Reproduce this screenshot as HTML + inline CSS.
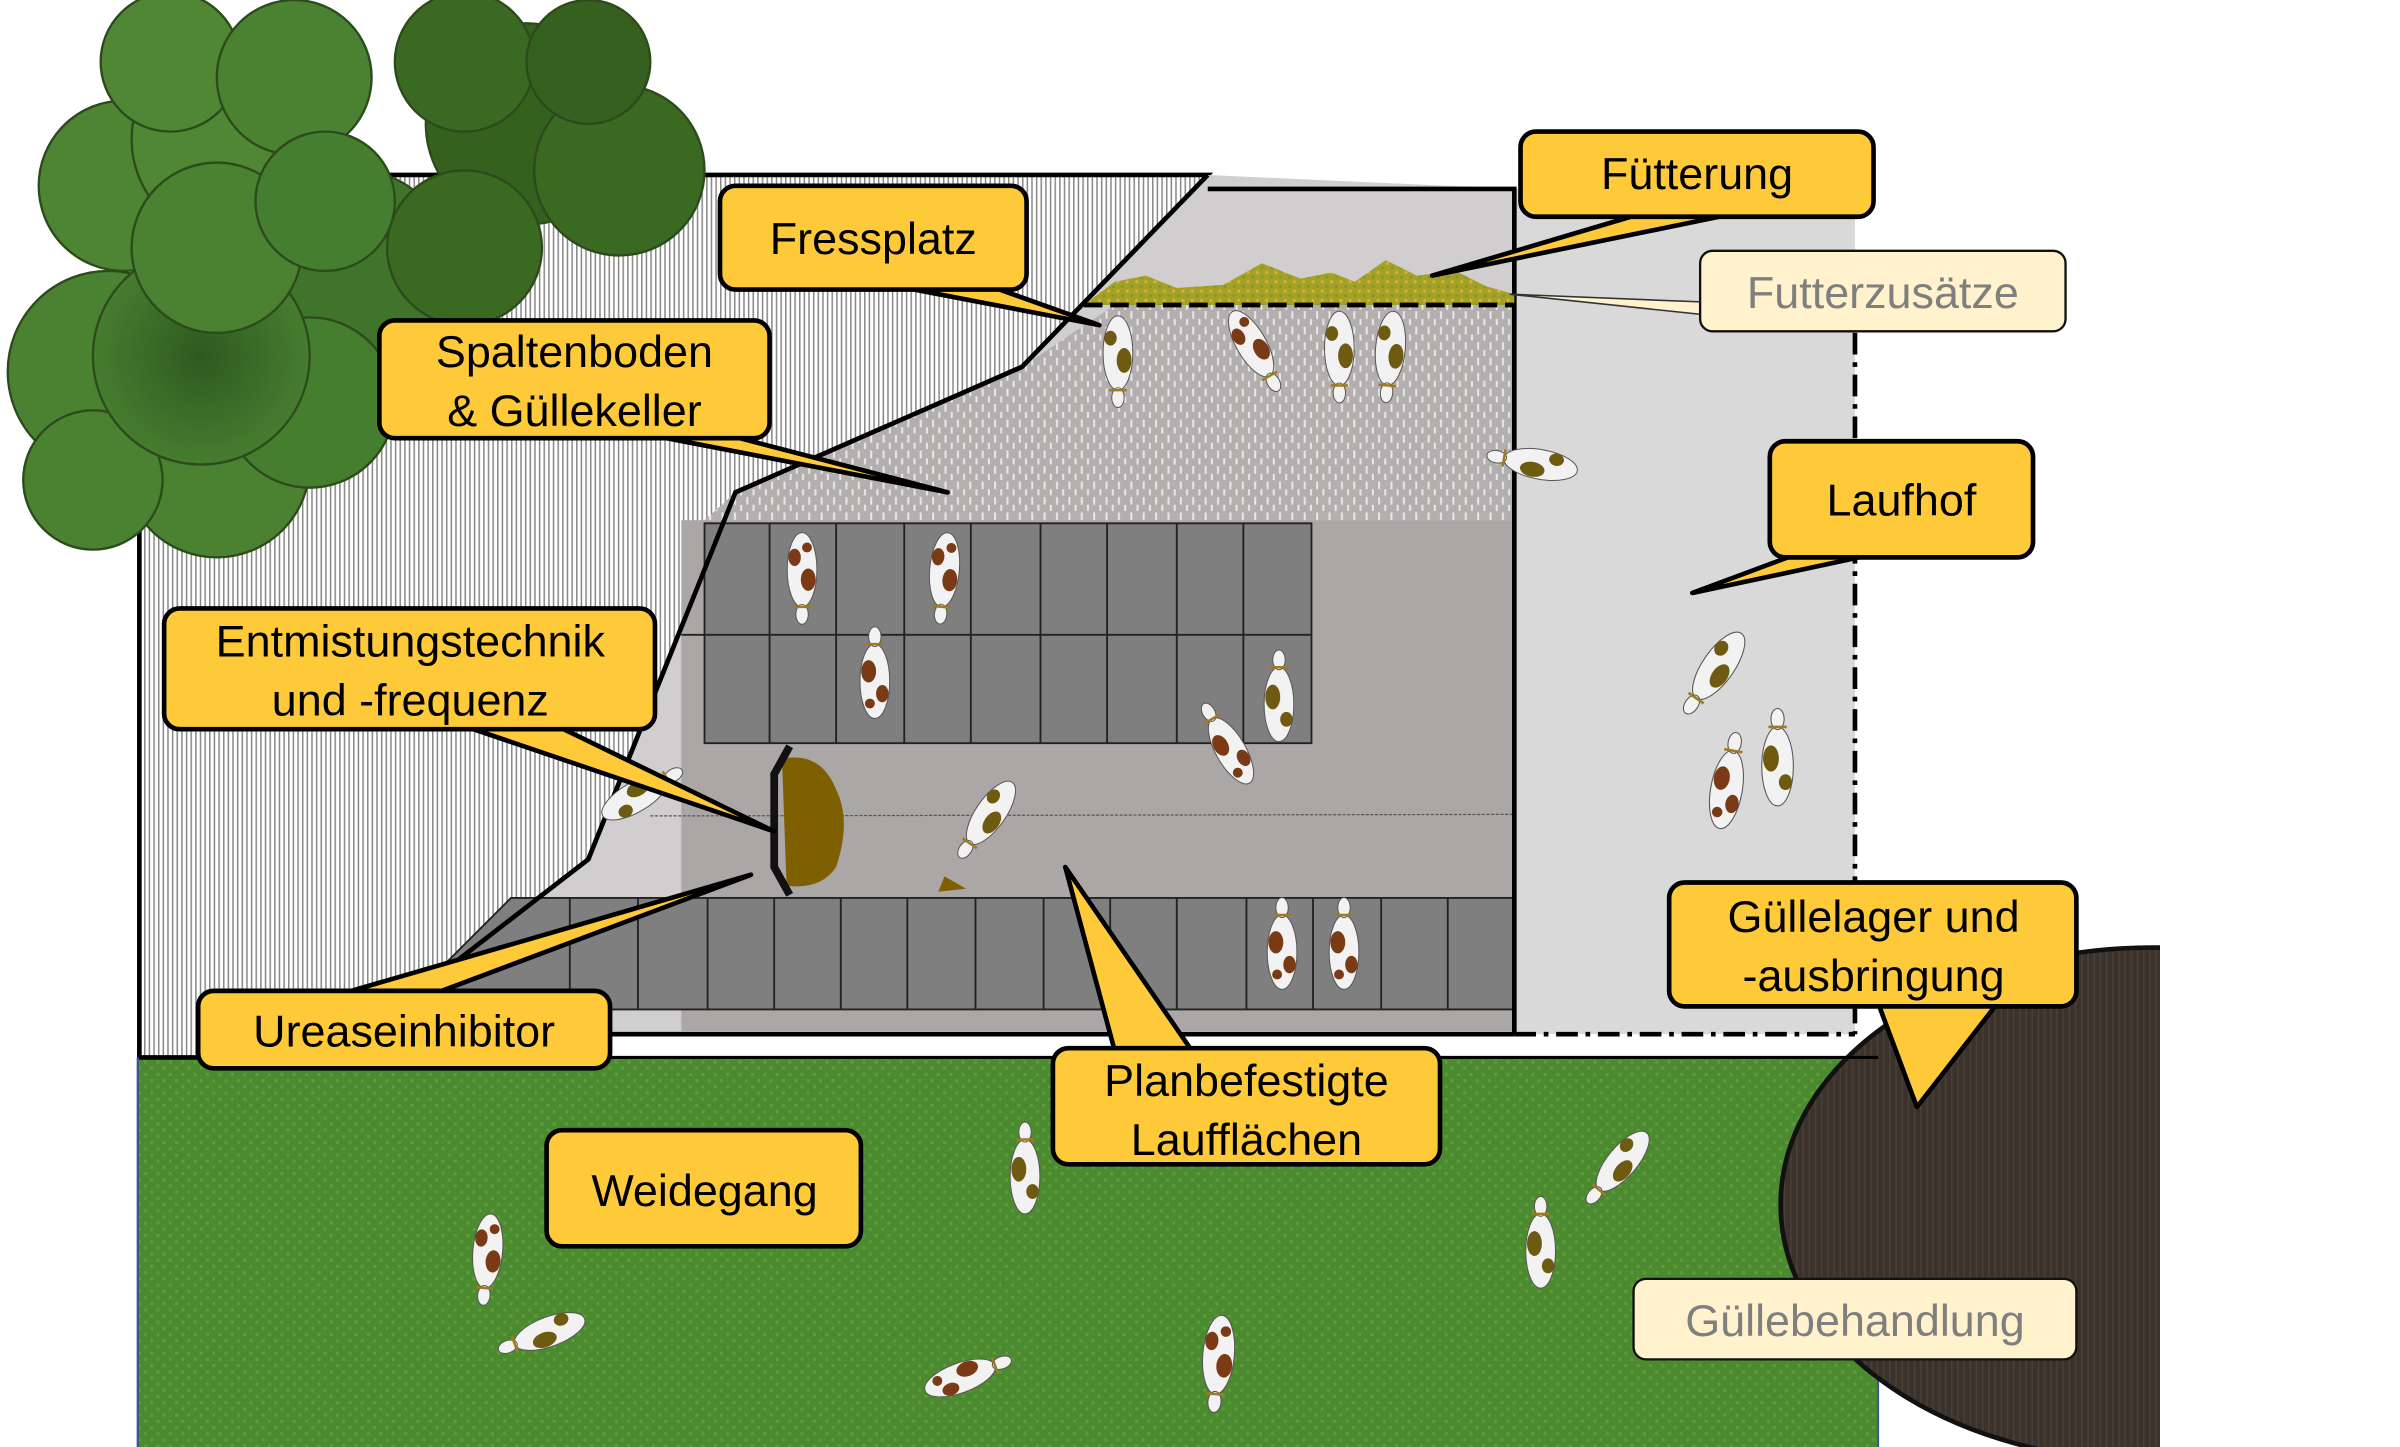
<!DOCTYPE html>
<html><head><meta charset="utf-8"><style>
html,body{margin:0;padding:0;background:#fff;width:2400px;height:1447px;overflow:hidden;}
svg{display:block;position:absolute;left:0;top:0;}
text{font-family:"Liberation Sans",sans-serif;}
</style></head><body>
<svg width="2400" height="1447" viewBox="0 0 1550 934.6" preserveAspectRatio="none" xmlns="http://www.w3.org/2000/svg">
<defs>
<pattern id="stripe" width="3" height="10" patternUnits="userSpaceOnUse"><rect width="3" height="10" fill="#fff"/><rect width="1" height="10" fill="#8a8a8a"/></pattern>
<pattern id="dots" width="8" height="10" patternUnits="userSpaceOnUse"><rect width="8" height="10" fill="#b3afaf"/><rect x="2" y="1" width="1.3" height="5" fill="#e8e8e8"/><rect x="6" y="6" width="1.3" height="4" fill="#e8e8e8"/></pattern>
<pattern id="grass" width="8" height="8" patternUnits="userSpaceOnUse"><rect width="8" height="8" fill="#4c8a2f"/><rect x="1" y="1" width="2" height="2" fill="#5e9b3e"/><rect x="5" y="5" width="2" height="2" fill="#5e9b3e"/></pattern>
<pattern id="feed" width="6" height="6" patternUnits="userSpaceOnUse"><rect width="6" height="6" fill="#a6a124"/><circle cx="2" cy="2" r="1" fill="#d0b640"/><circle cx="5" cy="5" r="1" fill="#7c9a30"/></pattern>
<pattern id="slurry" width="4" height="4" patternUnits="userSpaceOnUse"><rect width="4" height="4" fill="#3b322b"/><rect width="1" height="4" fill="#4a3f36"/></pattern>
<radialGradient id="tg" cx="0.5" cy="0.5" r="0.6"><stop offset="0" stop-color="#2e5a1f"/><stop offset="1" stop-color="#4b8332"/></radialGradient>
<g id="cow">
<ellipse cx="0" cy="0" rx="12" ry="30" fill="#f2f2f2" stroke="#555" stroke-width="0.8"/>
<ellipse cx="-5" cy="-8" rx="6" ry="9" fill="#7a3a16"/>
<ellipse cx="6" cy="10" rx="5" ry="7" fill="#7a3a16"/>
<ellipse cx="-4" cy="18" rx="4" ry="4" fill="#7a3a16"/>
<ellipse cx="0" cy="-36" rx="5" ry="8" fill="#f2f2f2" stroke="#555" stroke-width="0.8"/>
<line x1="-7" y1="-30" x2="7" y2="-30" stroke="#a07a20" stroke-width="2"/>
</g>
<g id="cow2">
<ellipse cx="0" cy="0" rx="12" ry="30" fill="#f2f2f2" stroke="#555" stroke-width="0.8"/>
<ellipse cx="-5" cy="-6" rx="6" ry="10" fill="#6e5a10"/>
<ellipse cx="6" cy="12" rx="5" ry="6" fill="#6e5a10"/>
<ellipse cx="0" cy="-36" rx="5" ry="8" fill="#f2f2f2" stroke="#555" stroke-width="0.8"/>
<line x1="-7" y1="-30" x2="7" y2="-30" stroke="#a07a20" stroke-width="2"/>
</g>
<clipPath id="cc"><rect x="0" y="0" width="1395" height="935"/></clipPath>
</defs>

<!-- grass -->
<rect x="89" y="683" width="1124" height="252" fill="url(#grass)"/>
<line x1="1213" y1="683" x2="1213" y2="935" stroke="#3a5a8a" stroke-width="1.2"/>
<!-- slurry pit -->
<ellipse cx="1390" cy="778" rx="240" ry="166" fill="url(#slurry)" stroke="#111" stroke-width="3" clip-path="url(#cc)"/>

<!-- barn striped -->
<polygon points="90,113 780,113 660,237 475,318 380,555 270,640 270,683 90,683" fill="url(#stripe)" stroke="#000" stroke-width="3"/>

<!-- Laufhof -->
<rect x="978" y="122" width="220" height="546" fill="#d9d9d9"/>
<!-- main floor -->
<polygon points="780,113 978,122 978,668 270,668 270,640 380,555 475,318 660,237" fill="#d0cece"/>
<polygon points="660,237 720,197 978,197 978,336 455,336 475,318" fill="url(#dots)"/>
<rect x="440" y="336" width="538" height="330" fill="#aba7a7"/>
<rect x="455" y="338" width="392" height="142" fill="#7f7f7f" stroke="#222" stroke-width="1.2"/>
<g stroke="#222" stroke-width="1.2">
<line x1="440" y1="410" x2="847" y2="410"/>
<line x1="497" y1="338" x2="497" y2="480"/><line x1="540" y1="338" x2="540" y2="480"/><line x1="584" y1="338" x2="584" y2="480"/><line x1="627" y1="338" x2="627" y2="480"/><line x1="672" y1="338" x2="672" y2="480"/><line x1="715" y1="338" x2="715" y2="480"/><line x1="760" y1="338" x2="760" y2="480"/><line x1="803" y1="338" x2="803" y2="480"/>
</g>
<polygon points="330,580 978,580 978,652 270,652 270,640" fill="#7f7f7f" stroke="#222" stroke-width="1.2"/>
<g stroke="#222" stroke-width="1.2">
<line x1="368" y1="580" x2="368" y2="652"/><line x1="412" y1="580" x2="412" y2="652"/><line x1="457" y1="580" x2="457" y2="652"/><line x1="500" y1="580" x2="500" y2="652"/><line x1="543" y1="580" x2="543" y2="652"/><line x1="586" y1="580" x2="586" y2="652"/><line x1="630" y1="580" x2="630" y2="652"/><line x1="674" y1="580" x2="674" y2="652"/><line x1="717" y1="580" x2="717" y2="652"/><line x1="760" y1="580" x2="760" y2="652"/><line x1="805" y1="580" x2="805" y2="652"/><line x1="848" y1="580" x2="848" y2="652"/><line x1="892" y1="580" x2="892" y2="652"/><line x1="935" y1="580" x2="935" y2="652"/>
</g>
<line x1="420" y1="527" x2="978" y2="526" stroke="#555" stroke-width="0.8" stroke-dasharray="2,1"/>
<polyline points="780,113 660,237 475,318 380,555 270,640" fill="none" stroke="#000" stroke-width="3"/>
<polyline points="780,122 978,122 978,668" fill="none" stroke="#000" stroke-width="3"/>
<line x1="270" y1="668" x2="978" y2="668" stroke="#000" stroke-width="3"/>
<line x1="978" y1="668" x2="1198" y2="668" stroke="#000" stroke-width="3" stroke-dasharray="14,5,3,5"/>
<line x1="1198" y1="215" x2="1198" y2="668" stroke="#000" stroke-width="3" stroke-dasharray="14,5,3,5"/>
<line x1="90" y1="683" x2="1213" y2="683" stroke="#000" stroke-width="2"/>
<line x1="89" y1="683" x2="89" y2="935" stroke="#3a5a8a" stroke-width="1.5"/>
<!-- feed -->
<path d="M700,197 L720,182 L740,178 L760,186 L790,184 L815,170 L840,180 L860,176 L875,182 L895,168 L915,178 L940,175 L960,185 L978,190 L978,197 Z" fill="url(#feed)"/>
<line x1="700" y1="197" x2="978" y2="197" stroke="#000" stroke-width="3" stroke-dasharray="12,5"/>
<!-- manure scraper -->
<path d="M505,490 Q530,485 540,510 Q550,530 540,560 Q530,575 508,572 Z" fill="#7f6000"/>
<path d="M610,566 L624,574 L606,576 Z" fill="#7f6000"/>
<polyline points="510,482 500,500 500,560 510,578" fill="none" stroke="#111" stroke-width="5"/>

<!-- trees -->
<g stroke="#2c4a1c" stroke-width="1.5">
<circle cx="340" cy="80" r="65" fill="#35611f"/><circle cx="400" cy="110" r="55" fill="#3a6a22"/><circle cx="300" cy="40" r="45" fill="#3a6a22"/><circle cx="380" cy="40" r="40" fill="#356020"/>
<circle cx="230" cy="170" r="60" fill="#3f742a"/><circle cx="300" cy="160" r="50" fill="#3a6a22"/>
<circle cx="70" cy="240" r="65" fill="#4a8232"/><circle cx="140" cy="300" r="60" fill="#4a8232"/><circle cx="200" cy="260" r="55" fill="#467e2f"/><circle cx="60" cy="310" r="45" fill="#4a8232"/><circle cx="130" cy="230" r="70" fill="url(#tg)"/>
<circle cx="80" cy="120" r="55" fill="#4d8533"/><circle cx="150" cy="90" r="65" fill="#4f8735"/><circle cx="110" cy="40" r="45" fill="#4f8735"/><circle cx="190" cy="50" r="50" fill="#4a8232"/><circle cx="140" cy="160" r="55" fill="#4a8232"/><circle cx="210" cy="130" r="45" fill="#467e2f"/>
</g>

<!-- cows -->
<use href="#cow2" transform="translate(722,228) rotate(180) scale(0.8)"/>
<use href="#cow" transform="translate(808,222) rotate(150) scale(0.8)"/>
<use href="#cow2" transform="translate(865,225) rotate(180) scale(0.8)"/>
<use href="#cow2" transform="translate(898,225) rotate(185) scale(0.8)"/>
<use href="#cow2" transform="translate(995,300) rotate(-80) scale(0.8)"/>
<use href="#cow" transform="translate(518,368) rotate(180) scale(0.8)"/>
<use href="#cow" transform="translate(610,368) rotate(185) scale(0.8)"/>
<use href="#cow" transform="translate(565,440) scale(0.8)"/>
<use href="#cow2" transform="translate(826,455) scale(0.8)"/>
<use href="#cow" transform="translate(795,485) rotate(-30) scale(0.8)"/>
<use href="#cow2" transform="translate(640,525) rotate(-145) scale(0.8)"/>
<use href="#cow2" transform="translate(410,515) rotate(60) scale(0.8)"/>
<use href="#cow2" transform="translate(1110,430) rotate(-145) scale(0.85)"/>
<use href="#cow" transform="translate(1115,510) rotate(10) scale(0.85)"/>
<use href="#cow2" transform="translate(1148,495) scale(0.85)"/>
<use href="#cow" transform="translate(828,615) scale(0.8)"/>
<use href="#cow" transform="translate(868,615) scale(0.8)"/>
<use href="#cow2" transform="translate(662,760) scale(0.8)"/>
<use href="#cow" transform="translate(315,808) rotate(185) scale(0.8)"/>
<use href="#cow2" transform="translate(355,860) rotate(-110) scale(0.8)"/>
<use href="#cow" transform="translate(620,890) rotate(70) scale(0.8)"/>
<use href="#cow" transform="translate(787,875) rotate(185) scale(0.85)"/>
<use href="#cow2" transform="translate(995,808) scale(0.8)"/>
<use href="#cow2" transform="translate(1048,750) rotate(-140) scale(0.8)"/>

<!-- callouts -->
<g fill="#ffca3a" stroke="#000" stroke-width="3" stroke-linejoin="round">
<polygon points="580,185 640,185 710,210"/>
<polygon points="1060,138 1120,138 925,178"/>
<polygon points="420,281 470,281 612,318"/>
<polygon points="1160,358 1210,358 1093,383"/>
<polygon points="300,469 360,469 500,537"/>
<polygon points="220,642 280,642 485,565"/>
<polygon points="1213,648 1290,648 1238,715"/>
<polygon points="720,679 770,679 688,560"/>
<rect x="465" y="120" width="198" height="67" rx="10"/>
<rect x="982" y="85" width="228" height="55" rx="10"/>
<rect x="245" y="207" width="252" height="76" rx="10"/>
<rect x="1143" y="285" width="170" height="75" rx="10"/>
<rect x="106" y="393" width="317" height="78" rx="10"/>
<rect x="128" y="640" width="266" height="50" rx="10"/>
<rect x="1078" y="570" width="263" height="80" rx="10"/>
<rect x="680" y="677" width="250" height="75" rx="10"/>
<rect x="353" y="730" width="203" height="75" rx="10"/>
</g>
<polygon points="1098,195 1098,203 975,190" fill="#fff2cc" stroke="#333" stroke-width="1"/>
<rect x="1098" y="162" width="236" height="52" rx="8" fill="#fff2cc" stroke="#111" stroke-width="1.5"/>
<rect x="1055" y="826" width="286" height="52" rx="8" fill="#fff2cc" stroke="#111" stroke-width="1.5"/>

<g font-size="29" fill="#000" text-anchor="middle">
<text x="564" y="164">Fressplatz</text>
<text x="1096" y="122">Fütterung</text>
<text x="371" y="237">Spaltenboden</text>
<text x="371" y="275">&amp; Güllekeller</text>
<text x="1228" y="333">Laufhof</text>
<text x="265" y="424">Entmistungstechnik</text>
<text x="265" y="462">und -frequenz</text>
<text x="261" y="676">Ureaseinhibitor</text>
<text x="1210" y="602">Güllelager und</text>
<text x="1210" y="640">-ausbringung</text>
<text x="805" y="708">Planbefestigte</text>
<text x="805" y="746">Laufflächen</text>
<text x="455" y="779">Weidegang</text>
<text x="1216" y="199" fill="#7f7f7f">Futterzusätze</text>
<text x="1198" y="863" fill="#7f7f7f">Güllebehandlung</text>
</g>
</svg>
</body></html>
